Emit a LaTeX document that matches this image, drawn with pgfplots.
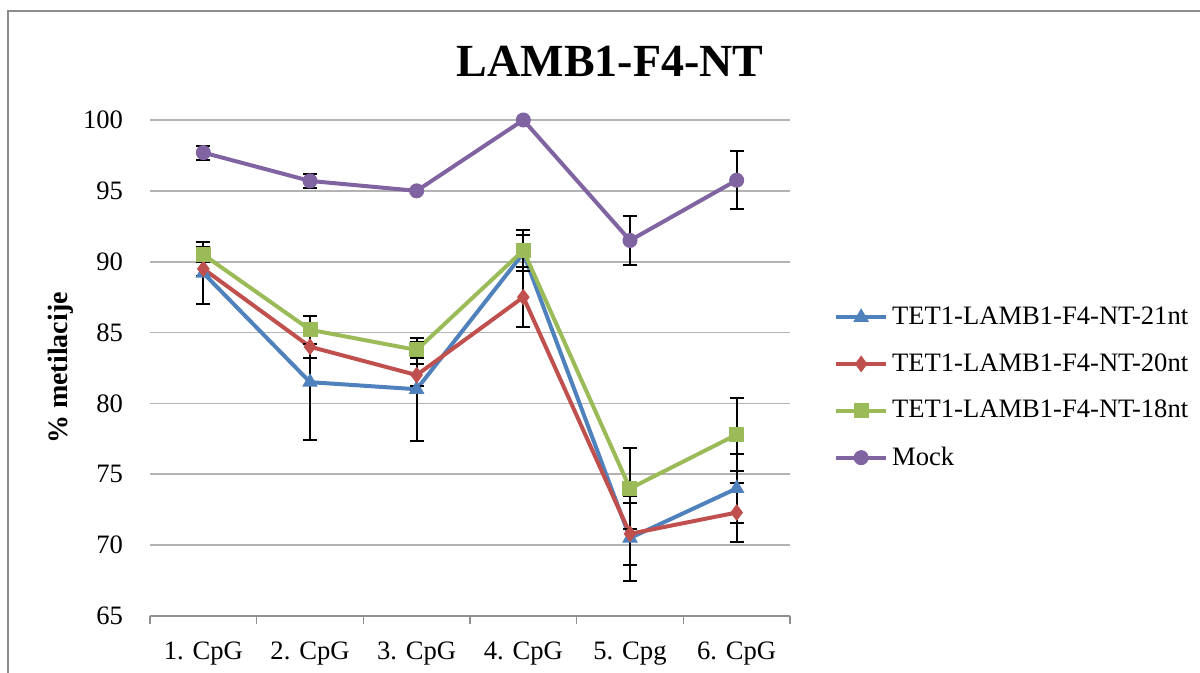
\documentclass[border=0pt]{standalone}
\usepackage{fontspec}
\setmainfont{Liberation Serif}
\usepackage{pgfplots}
\usepackage{pgfplotstable}
\pgfplotsset{compat=1.18}

\definecolor{cblue}{HTML}{4F81BD}
\definecolor{cred}{HTML}{C0504D}
\definecolor{cgreen}{HTML}{9BBB59}
\definecolor{cpurple}{HTML}{8064A2}
\definecolor{cgrid}{HTML}{B3B3B3}

% x = CpG position, y = % methylation, e = error
\pgfplotstableread{
x y e
1 89.2 2.2
2 81.5 4.07
3 81.0 3.63
4 90.6 1.25
5 70.5 3.0
6 74.0 2.46
}\tetA
\pgfplotstableread{
x y e
1 89.5 0.5
2 84.0 0.82
3 82.0 0.78
4 87.5 2.1
5 70.8 2.2
6 72.3 2.05
}\tetB
\pgfplotstableread{
x y e
1 90.5 0.55
2 85.2 1.0
3 83.77 0.53
4 90.8 1.45
5 74.0 2.83
6 77.8 2.6
}\tetC
\pgfplotstableread{
x y e
1 97.7 0.5
2 95.7 0.5
3 95.0 0
4 100.0 0
5 91.5 1.72
6 95.75 2.05
}\mock

\begin{document}
\begin{tikzpicture}
\path[use as bounding box] (0,0) rectangle (600pt,336.5pt);
\draw[gray!90, line width=0.8pt] (4pt,0) -- (4pt,331pt) -- (600pt,331pt);
\begin{axis}[
    at={(75pt,28.5pt)}, anchor=south west,
    scale only axis,
    width=320pt, height=248pt,
    xmin=0.5, xmax=6.5,
    ymin=65, ymax=100,
    xtick={1,...,6},
    xticklabels={1. CpG, 2. CpG, 3. CpG, 4. CpG, 5. Cpg, 6. CpG},
    minor xtick={0.5,1.5,...,6.5},
    ytick={65,70,...,100},
    major tick length=0pt,
    minor tick length=4pt,
    tick align=outside,
    tick style={cgrid!80!black, line width=0.8pt},
    axis x line*=bottom,
    axis y line*=left,
    y axis line style={draw=none},
    x axis line style={cgrid!80!black, line width=1pt, -},
    ymajorgrids,
    grid style={cgrid, line width=0.8pt},
    yticklabel style={xshift=-10pt},
    xticklabel style={yshift=-9.5pt},
    ticklabel style={font=\fontsize{13.3}{15}\selectfont},
    /pgf/number format/assume math mode=true,
    ylabel={\% metilacije},
    ylabel style={at={(axis description cs:-0.139,0.5)}, anchor=center, font=\bfseries\fontsize{14}{16}\selectfont},
    title={LAMB1-F4-NT},
    title style={at={(axis description cs:0.719,1.093)}, anchor=center, font=\bfseries\fontsize{23}{27}\selectfont},
    legend style={at={(1.059,0.64)}, anchor=north west, draw=none, fill=none,
        font=\fontsize{13.3}{15}\selectfont, row sep=9pt},
    legend cell align=left,
    legend image code/.code={
        \draw[#1, mark repeat=2, mark phase=2] plot coordinates {(0pt,0pt) (12.5pt,0pt) (25pt,0pt)};
    },
    error bars/y dir=both,
    error bars/y explicit,
    error bars/error mark options={rotate=90, mark size=3.5pt, line width=1pt, black},
    error bars/error bar style={line width=1pt, black},
    every axis plot/.append style={line width=2pt},
]
\addplot[color=cblue, mark=triangle*, mark size=4pt, mark options={fill=cblue, line width=0.5pt}] table[x=x, y=y, y error=e] {\tetA};
\addlegendentry{TET1-LAMB1-F4-NT-21nt}
\addplot[color=cred, mark=diamond*, mark size=3.8pt, mark options={fill=cred, line width=0.5pt}] table[x=x, y=y, y error=e] {\tetB};
\addlegendentry{TET1-LAMB1-F4-NT-20nt}
\addplot[color=cgreen, mark=square*, mark size=3.5pt, mark options={fill=cgreen, line width=0.5pt}] table[x=x, y=y, y error=e] {\tetC};
\addlegendentry{TET1-LAMB1-F4-NT-18nt}
\addplot[color=cpurple, mark=*, mark size=3.5pt, mark options={fill=cpurple, line width=0.5pt}] table[x=x, y=y, y error=e] {\mock};
\addlegendentry{Mock}
\end{axis}
\end{tikzpicture}
\end{document}
